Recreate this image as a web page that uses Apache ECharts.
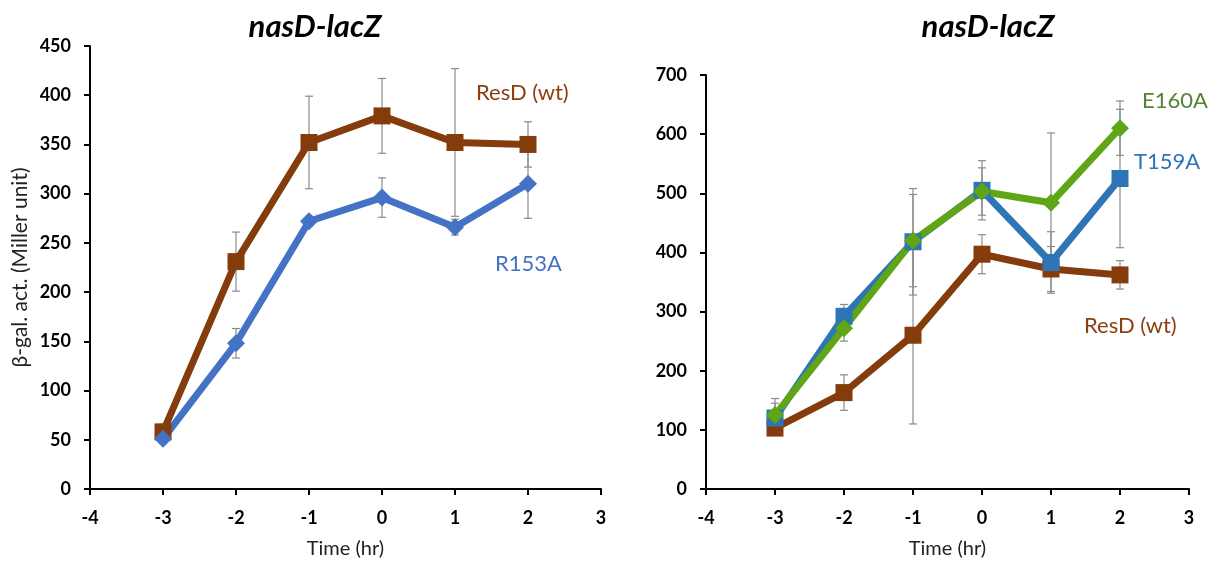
<html>
<head>
<meta charset="utf-8">
<title>nasD-lacZ</title>
<script src="https://cdn.jsdelivr.net/npm/echarts@6/dist/echarts.min.js"></script>
<style>
  html, body { margin: 0; padding: 0; background: #fff; }
  #main { width: 1220px; height: 565px; }
</style>
</head>
<body>
<div id="main"></div>
<script type="text/javascript">
// time points (hr)
var hours = [-3, -2, -1, 0, 1, 2];

// left panel
var leftResD    = [58, 231, 352, 379, 352, 350];
var leftResDErr = [8, 30, 47, 38, 75, 23];
var leftR153A    = [51, 148, 272, 296, 266, 310];
var leftR153AErr = [5, 15, 5, 20, 8, 35];

// right panel
var rightResD    = [103, 163, 260, 397, 372, 362];
var rightResDErr = [10, 30, 150, 33, 38, 24];
var rightT159A    = [120, 292, 418, 505, 383, 525];
var rightT159AErr = [25, 20, 90, 50, 52, 117];
var rightE160A    = [125, 272, 420, 503, 484, 610];
var rightE160AErr = [28, 22, 78, 40, 118, 46];

var brown = '#843C0C';
var blue1 = '#4472C4';
var blue2 = '#2E75B6';
var green = '#5FA516';

var chartDom = document.getElementById('main');
var myChart = echarts.init(chartDom);

function pts(vals) {
  return hours.map(function (h, i) { return [h, vals[i]]; });
}
function errPts(vals, errs) {
  return hours.map(function (h, i) { return [h, vals[i], errs[i]]; });
}

function errorSeries(idx, vals, errs) {
  return {
    type: 'custom',
    xAxisIndex: idx,
    yAxisIndex: idx,
    z: 1,
    silent: true,
    data: errPts(vals, errs),
    renderItem: function (params, api) {
      var x = api.value(0), y = api.value(1), e = api.value(2);
      var top = api.coord([x, y + e]);
      var bot = api.coord([x, y - e]);
      var w = 4;
      var style = { stroke: '#8a8a8a', lineWidth: 1.2 };
      return {
        type: 'group',
        children: [
          { type: 'line', shape: { x1: top[0], y1: top[1], x2: bot[0], y2: bot[1] }, style: style },
          { type: 'line', shape: { x1: top[0] - w, y1: top[1], x2: top[0] + w, y2: top[1] }, style: style },
          { type: 'line', shape: { x1: bot[0] - w, y1: bot[1], x2: bot[0] + w, y2: bot[1] }, style: style }
        ]
      };
    }
  };
}

function lineSeries(idx, name, vals, color, symbol, size) {
  return {
    name: name,
    type: 'line',
    xAxisIndex: idx,
    yAxisIndex: idx,
    z: 3,
    data: pts(vals),
    symbol: symbol,
    symbolSize: size,
    lineStyle: { color: color, width: 7 },
    itemStyle: { color: color },
    emphasis: { disabled: true }
  };
}

var tickFont = { color: '#000', fontSize: 18, fontWeight: 'bold', fontFamily: 'Lato' };

function xAxis(idx) {
  return {
    type: 'value',
    gridIndex: idx,
    min: -4, max: 3, interval: 1,
    name: 'Time (hr)',
    nameLocation: 'middle',
    nameGap: 50,
    nameTextStyle: { color: '#222', fontSize: 20, fontFamily: 'Lato' },
    axisLine: { onZero: false, lineStyle: { color: '#000', width: 2 } },
    axisTick: { show: true, length: 6, lineStyle: { color: '#000', width: 2 } },
    axisLabel: Object.assign({ margin: 20 }, tickFont),
    splitLine: { show: false }
  };
}

function yAxis(idx, max, interval, name) {
  return {
    type: 'value',
    gridIndex: idx,
    min: 0, max: max, interval: interval,
    name: name,
    nameLocation: 'middle',
    nameGap: 59,
    nameTextStyle: { color: '#222', fontSize: 21, fontFamily: 'Lato' },
    axisLine: { show: true, onZero: false, lineStyle: { color: '#000', width: 2 } },
    axisTick: { show: true, length: 6, lineStyle: { color: '#000', width: 2 } },
    axisLabel: Object.assign({ margin: 19 }, tickFont),
    splitLine: { show: false }
  };
}

var labelFont = { fontSize: 22, fontFamily: 'Lato' };
var titleFont = { fontSize: 31, fontWeight: 'bold', fontStyle: 'italic', color: '#000', fontFamily: 'Lato' };

var option = {
  backgroundColor: '#fff',
  animation: false,
  title: [
    { text: 'nasD-lacZ', left: 310, top: 6, textAlign: 'center', textStyle: titleFont },
    { text: 'nasD-lacZ', left: 983, top: 6, textAlign: 'center', textStyle: titleFont }
  ],
  grid: [
    { left: 90, top: 46, width: 511, height: 443 },
    { left: 706, top: 75, width: 483, height: 414 }
  ],
  xAxis: [xAxis(0), xAxis(1)],
  yAxis: [yAxis(0, 450, 50, 'β-gal. act. (Miller unit)'), yAxis(1, 700, 100, '')],
  series: [
    errorSeries(0, leftResD, leftResDErr),
    errorSeries(0, leftR153A, leftR153AErr),
    lineSeries(0, 'ResD (wt)', leftResD, brown, 'rect', 17),
    lineSeries(0, 'R153A', leftR153A, blue1, 'diamond', 18),
    errorSeries(1, rightResD, rightResDErr),
    errorSeries(1, rightT159A, rightT159AErr),
    errorSeries(1, rightE160A, rightE160AErr),
    lineSeries(1, 'ResD (wt)', rightResD, brown, 'rect', 17),
    lineSeries(1, 'T159A', rightT159A, blue2, 'rect', 17),
    lineSeries(1, 'E160A', rightE160A, green, 'diamond', 18)
  ],
  graphic: [
    { type: 'text', left: 476, top: 82, style: Object.assign({ text: 'ResD (wt)', fill: '#8B3F0F' }, labelFont) },
    { type: 'text', left: 495, top: 253, style: Object.assign({ text: 'R153A', fill: blue1 }, labelFont) },
    { type: 'text', left: 1142, top: 90, style: Object.assign({ text: 'E160A', fill: '#548235' }, labelFont) },
    { type: 'text', left: 1134, top: 151, style: Object.assign({ text: 'T159A', fill: blue2 }, labelFont) },
    { type: 'text', left: 1084, top: 315, style: Object.assign({ text: 'ResD (wt)', fill: '#8B3F0F' }, labelFont) }
  ]
};

option && myChart.setOption(option);
</script>
</body>
</html>
